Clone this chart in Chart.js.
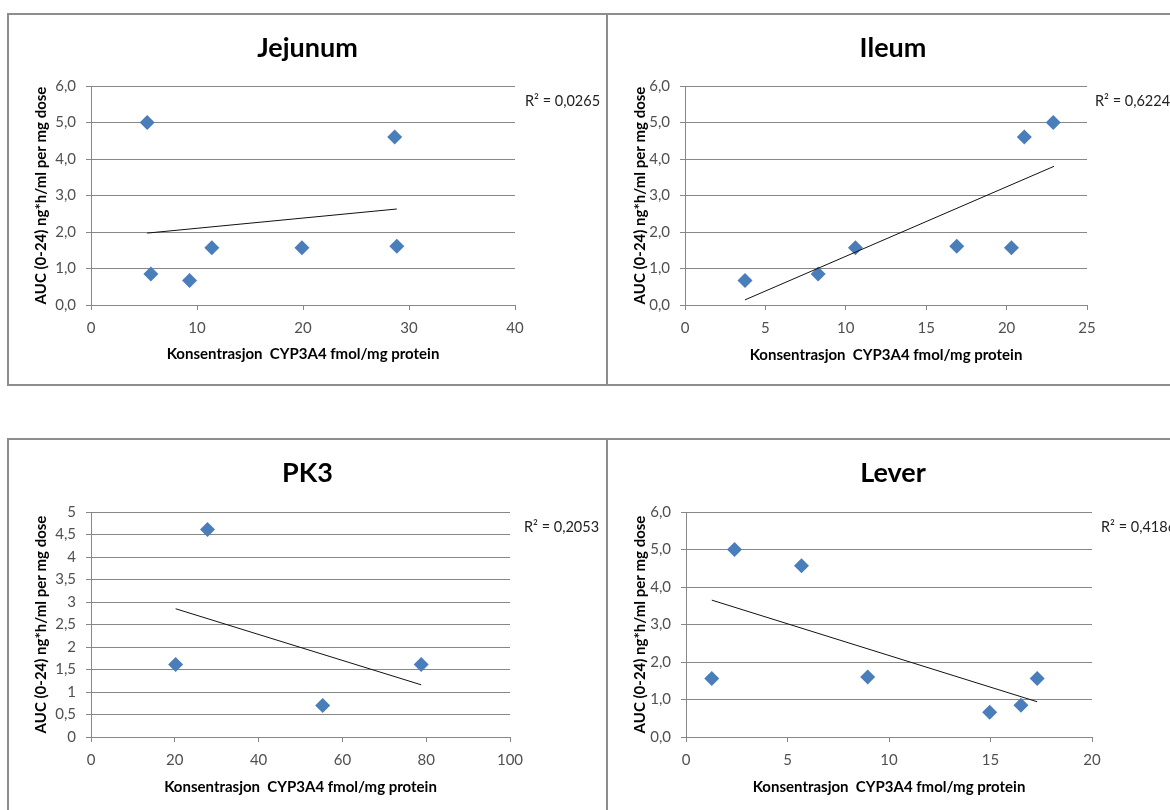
<!DOCTYPE html>
<html>
<head>
<meta charset="utf-8">
<script src="https://cdn.jsdelivr.net/npm/chart.js@4.4.0/dist/chart.umd.min.js"></script>
<style>
    body { margin: 0; background: #fff; width: 1170px; height: 810px; overflow: hidden; position: relative; }
    .panel { position: absolute; border: 2px solid #8d8d8d; box-sizing: border-box; background: #fff; }
    .panel canvas { display: block; }
</style>
</head>
<body>
<div class="panel" style="left:7px;top:13px;width:601px;height:373px"><canvas id="jejunum" width="597" height="369"></canvas></div>
<div class="panel" style="left:606px;top:13px;width:574px;height:373px"><canvas id="ileum" width="570" height="369"></canvas></div>
<div class="panel" style="left:7px;top:438px;width:601px;height:374px"><canvas id="pk3" width="597" height="370"></canvas></div>
<div class="panel" style="left:606px;top:438px;width:574px;height:374px"><canvas id="lever" width="570" height="370"></canvas></div>

<script>
// data
var jejunumX = [5.3, 5.65, 9.3, 11.4, 19.9, 28.65, 28.85];
var jejunumY = [5.0, 0.85, 0.67, 1.57, 1.57, 4.6, 1.61];
var jejunumTrendX = [5.3, 28.85];
var jejunumTrendY = [1.97, 2.63];

var ileumX = [3.73, 8.28, 10.6, 16.9, 20.3, 21.1, 22.9];
var ileumY = [0.67, 0.85, 1.57, 1.61, 1.57, 4.6, 5.0];
var ileumTrendX = [3.73, 22.95];
var ileumTrendY = [0.14, 3.8];

var pk3X = [20.2, 27.8, 55.3, 78.8];
var pk3Y = [1.61, 4.61, 0.7, 1.61];
var pk3TrendX = [20.2, 78.8];
var pk3TrendY = [2.85, 1.16];

var leverX = [1.27, 2.39, 5.69, 8.95, 14.96, 16.5, 17.3];
var leverY = [1.56, 5.0, 4.57, 1.6, 0.66, 0.85, 1.56];
var leverTrendX = [1.27, 17.3];
var leverTrendY = [3.65, 0.94];

// tick values
var jejunumXTicks = [0, 10, 20, 30, 40];
var ileumXTicks = [0, 5, 10, 15, 20, 25];
var pk3XTicks = [0, 20, 40, 60, 80, 100];
var leverXTicks = [0, 5, 10, 15, 20];
var aucYTicks = [0, 1, 2, 3, 4, 5, 6];
var pk3YTicks = [0, 0.5, 1, 1.5, 2, 2.5, 3, 3.5, 4, 4.5, 5];

var r2Labels = ['R² = 0,0265', 'R² = 0,6224', 'R² = 0,2053', 'R² = 0,4186'];
var titles = ['Jejunum', 'Ileum', 'PK3', 'Lever'];
var xTitle = 'Konsentrasjon  CYP3A4 fmol/mg protein';
var yTitle = 'AUC (0-24) ng*h/ml per mg dose';

var GRID = '#878787';
var FONT = 'Lato';

var r2Label = {
    id: 'r2Label',
    afterDraw(chart, args, opts) {
        var a = chart.chartArea, ctx = chart.ctx;
        ctx.save();
        ctx.font = '14.5px ' + FONT;
        ctx.fillStyle = '#222';
        ctx.textAlign = 'left';
        ctx.textBaseline = 'middle';
        ctx.fillText(opts.text, a.right + opts.dx, a.top + opts.dy);
        ctx.restore();
    }
};

function zip(xs, ys) {
    return xs.map((x, i) => ({x: x, y: ys[i]}));
}

function oneDecimal(v) { return v.toFixed(1).replace('.', ','); }
function plain(v) { return String(v).replace('.', ','); }

function makeChart(id, p) {
    var canvas = document.getElementById(id);
    var W = canvas.width, H = canvas.height;
    return new Chart(canvas, {
        type: 'scatter',
        data: {
            datasets: [
                {
                    type: 'line',
                    data: zip(p.trendX, p.trendY),
                    borderColor: '#111',
                    borderWidth: 1,
                    pointRadius: 0,
                    fill: false,
                    tension: 0
                },
                {
                    data: zip(p.x, p.y),
                    pointStyle: 'rectRot',
                    pointRadius: 7.5,
                    pointHoverRadius: 7.5,
                    backgroundColor: '#4a7ebb',
                    borderColor: '#4a7ebb',
                    borderWidth: 0
                }
            ]
        },
        options: {
            responsive: false,
            animation: false,
            events: [],
            layout: {padding: 0},
            plugins: {
                legend: {display: false},
                tooltip: {enabled: false},
                title: {
                    display: true,
                    text: p.title,
                    color: '#000',
                    font: {family: FONT, size: 27, weight: 'bold'},
                    padding: {top: p.titleTop, bottom: p.top - p.titleTop - 32.4}
                },
                r2Label: {text: p.r2, dx: p.r2dx, dy: 15}
            },
            scales: {
                x: {
                    type: 'linear',
                    min: p.xTicks[0],
                    max: p.xTicks[p.xTicks.length - 1],
                    afterBuildTicks: s => { s.ticks = p.xTicks.map(v => ({value: v})); },
                    afterFit: s => { s.height = H - p.bottom; },
                    grid: {drawOnChartArea: false, drawTicks: true, tickLength: 5, color: GRID},
                    border: {display: true, color: GRID},
                    ticks: {color: '#505050', font: {family: FONT, size: 15}, padding: 9, maxRotation: 0, autoSkip: false},
                    title: {
                        display: true,
                        text: xTitle,
                        color: '#000',
                        font: {family: FONT, size: 15, weight: 'bold'},
                        padding: {top: 0, bottom: H - p.xTitleY - 9}
                    }
                },
                y: {
                    type: 'linear',
                    min: p.yTicks[0],
                    max: p.yTicks[p.yTicks.length - 1],
                    afterBuildTicks: s => { s.ticks = p.yTicks.map(v => ({value: v})); },
                    afterFit: s => { s.width = p.left; },
                    grid: {drawOnChartArea: true, drawTicks: true, tickLength: 5, color: GRID},
                    border: {display: true, color: GRID},
                    ticks: {color: '#505050', font: {family: FONT, size: 15}, padding: 10, autoSkip: false, callback: p.yFormat},
                    title: {
                        display: true,
                        text: yTitle,
                        color: '#000',
                        font: {family: FONT, size: 15, weight: 'bold'},
                        padding: {top: 23, bottom: 0}
                    }
                },
                r: {
                    type: 'linear',
                    position: 'right',
                    afterFit: s => { s.width = W - p.right; },
                    grid: {display: false},
                    border: {display: false},
                    ticks: {display: false}
                }
            }
        },
        plugins: [r2Label]
    });
}

makeChart('jejunum', {
    title: titles[0], r2: r2Labels[0],
    x: jejunumX, y: jejunumY, trendX: jejunumTrendX, trendY: jejunumTrendY,
    xTicks: jejunumXTicks, yTicks: aucYTicks, yFormat: oneDecimal,
    left: 82, right: 506, top: 71, bottom: 290, titleTop: 16.8, xTitleY: 339, r2dx: 10
});
makeChart('ileum', {
    title: titles[1], r2: r2Labels[1],
    x: ileumX, y: ileumY, trendX: ileumTrendX, trendY: ileumTrendY,
    xTicks: ileumXTicks, yTicks: aucYTicks, yFormat: oneDecimal,
    left: 77, right: 479, top: 71, bottom: 290, titleTop: 16.8, xTitleY: 340, r2dx: 8
});
makeChart('pk3', {
    title: titles[2], r2: r2Labels[2],
    x: pk3X, y: pk3Y, trendX: pk3TrendX, trendY: pk3TrendY,
    xTicks: pk3XTicks, yTicks: pk3YTicks, yFormat: plain,
    left: 82, right: 501, top: 72, bottom: 297, titleTop: 17.3, xTitleY: 346.7, r2dx: 14
});
makeChart('lever', {
    title: titles[3], r2: r2Labels[3],
    x: leverX, y: leverY, trendX: leverTrendX, trendY: leverTrendY,
    xTicks: leverXTicks, yTicks: aucYTicks, yFormat: oneDecimal,
    left: 78, right: 484, top: 72, bottom: 297, titleTop: 17.3, xTitleY: 346.7, r2dx: 9
});
</script>
</body>
</html>
